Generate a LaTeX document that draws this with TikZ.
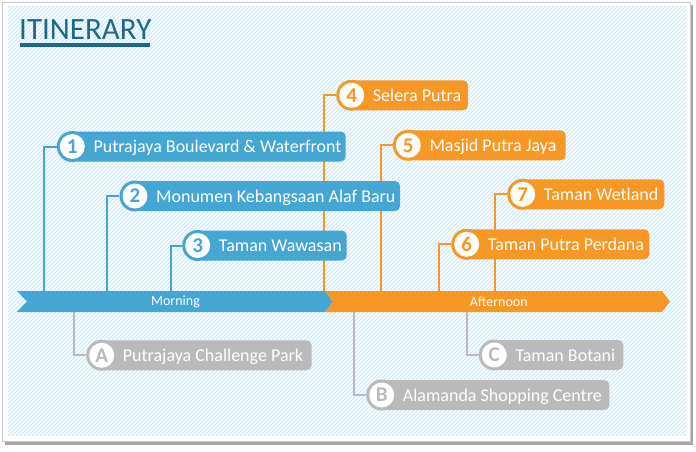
\documentclass[tikz,border=0pt]{standalone}
\usepackage{fontspec}
\setmainfont{Carlito}
\definecolor{tblue}{HTML}{45A6D4}
\definecolor{torange}{HTML}{F79824}
\definecolor{tgray}{HTML}{BABABA}
\definecolor{ttitle}{HTML}{1C6A8A}
\definecolor{hatchc}{HTML}{D2E9F7}
\pgfdeclarelayer{hatchlayer}
\pgfdeclarelayer{connlayer}
\pgfsetlayers{hatchlayer,connlayer,main}
\tikzset{
  ring/.style={circle, fill=#1, minimum size=31pt, inner sep=0pt},
  num/.style={circle, fill=white, minimum size=25pt, inner sep=0pt, text=#1,
    font=\fontsize{21}{21}\selectfont\bfseries},
  lbl/.style={anchor=base west, inner sep=0pt, text=white,
    font=\fontsize{18}{20}\selectfont},
  conn/.style={draw=#1, line width=2pt},
  phase/.style={text=white, inner sep=0pt, font=\fontsize{14}{14}\selectfont},
}
\newcommand\stopitem[7]{%
  \fill[#5, rounded corners=5pt] (#2,#3-15) rectangle (#4,#3+15);
  \node[ring=#5] (#1) at (#2,#3) {};
  \node[num=#5] (#1n) at (#2,#3) {#6};
  \node[lbl] (#1t) at (#2+21,#3+6) {#7};
}
\begin{document}
\begin{tikzpicture}[x=1pt,y=-1pt]
\useasboundingbox (0,0) rectangle (696,452);
% frame
\begin{pgfonlayer}{hatchlayer}
  \fill[black!35] (5,5) rectangle (693,445);
  \filldraw[fill=white, draw=black!22, line width=1pt] (2.5,2.5) rectangle (690,441.5);
  \begin{scope}
    \clip (8,7) rectangle (686,435);
    \foreach \c in {12,16,...,1124} {
      \draw[hatchc, line width=1.3pt] (\c-440,440) -- (\c,0);
    }
  \end{scope}
\end{pgfonlayer}
% title
\node[anchor=base west, inner sep=0pt, text=ttitle,
  font=\fontsize{31}{31}\selectfont] (title) at (19,39.5) {ITINERARY};
\fill[ttitle] (20,43.5) rectangle (150,47.5);
% timeline
\fill[tblue] (17,291) -- (325,291) -- (333,301.5) -- (325,312) -- (17,312) -- (27,301.5) -- cycle;
\fill[torange] (325,291) -- (662,291) -- (670,301.5) -- (662,312) -- (325,312) -- (333,301.5) -- cycle;
\node[phase] (morning) at (175.5,301.5) {Morning};
\node[phase] (afternoon) at (498.7,301.5) {Afternoon};
% anchor points on the timeline
\coordinate (b1) at (44.3,291);
\coordinate (b2) at (107,291);
\coordinate (b3) at (170.7,291);
\coordinate (b4) at (324,291);
\coordinate (b5) at (381,291);
\coordinate (b6) at (439.3,291);
\coordinate (b7) at (495,291);
\coordinate (bA) at (74.3,312);
\coordinate (bB) at (354.3,312);
\coordinate (bC) at (466.7,312);
% stops
\stopitem{s1}{72.3}{146.5}{345.7}{tblue}{1}{Putrajaya Boulevard \& Waterfront}
\stopitem{s2}{135}{196}{400}{tblue}{2}{Monumen Kebangsaan Alaf Baru}
\stopitem{s3}{197.7}{245.5}{346.7}{tblue}{3}{Taman Wawasan}
\stopitem{s4}{351.7}{95.3}{468}{torange}{4}{Selera Putra}
\stopitem{s5}{408.3}{145.3}{565.7}{torange}{5}{Masjid Putra Jaya}
\stopitem{s6}{466.7}{244.3}{649.3}{torange}{6}{Taman Putra Perdana}
\stopitem{s7}{522.7}{194.3}{664.3}{torange}{7}{Taman Wetland}
\stopitem{sA}{101.7}{355.3}{311.7}{tgray}{A}{Putrajaya Challenge Park}
\stopitem{sB}{381.7}{395}{609.3}{tgray}{B}{Alamanda Shopping Centre}
\stopitem{sC}{494.3}{355}{623.3}{tgray}{C}{Taman Botani}
% connectors
\begin{pgfonlayer}{connlayer}
  \draw[conn=tblue] (s1.west) -| (b1);
  \draw[conn=tblue] (s2.west) -| (b2);
  \draw[conn=tblue] (s3.west) -| (b3);
  \draw[conn=torange] (s4.west) -| (b4);
  \draw[conn=torange] (s5.west) -| (b5);
  \draw[conn=torange] (s6.west) -| (b6);
  \draw[conn=torange] (s7.west) -| (b7);
  \draw[conn=tgray] (bA) |- (sA.west);
  \draw[conn=tgray] (bB) |- (sB.west);
  \draw[conn=tgray] (bC) |- (sC.west);
\end{pgfonlayer}
\end{tikzpicture}
\end{document}
